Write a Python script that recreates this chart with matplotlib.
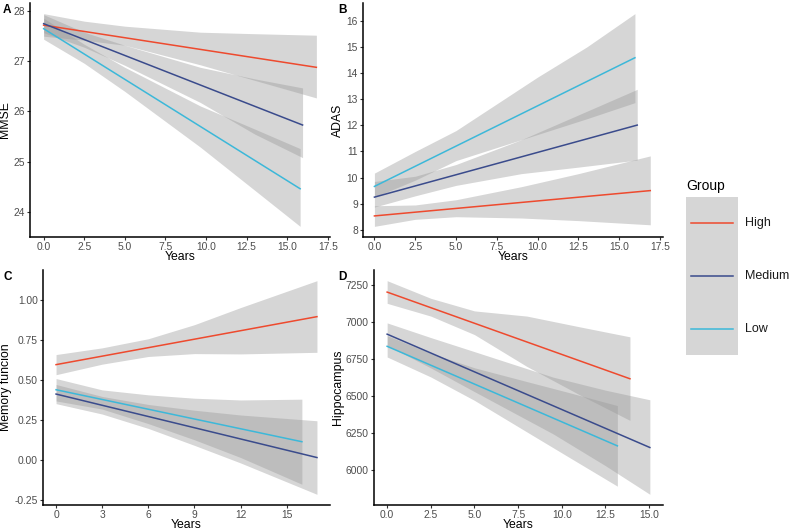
import matplotlib.pyplot as plt
from matplotlib.ticker import FixedLocator

plt.rcParams['font.family'] = ['Liberation Sans', 'DejaVu Sans']

groups = ['High', 'Medium', 'Low']
colors = {'High': '#ee4a2e', 'Medium': '#3a4b8c', 'Low': '#3cb8d9'}

# A - MMSE
mmse_x = {'High': [0, 2.5, 5, 9.65, 13, 16.8],
          'Medium': [0, 2.5, 5, 9.65, 13, 15.95],
          'Low': [0, 2.5, 5, 9.65, 13, 15.8]}
mmse_fit = {'High': [27.72, 26.88], 'Medium': [27.75, 25.73], 'Low': [27.65, 24.46]}
mmse_upper = {'High': [27.95, 27.80, 27.70, 27.58, 27.55, 27.52],
              'Medium': [27.93, 27.58, 27.32, 26.88, 26.65, 26.47],
              'Low': [27.86, 27.34, 26.88, 26.11, 25.65, 25.26]}
mmse_lower = {'High': [27.50, 27.42, 27.32, 26.93, 26.62, 26.27],
              'Medium': [27.57, 27.28, 26.92, 26.18, 25.55, 25.08],
              'Low': [27.44, 26.96, 26.40, 25.29, 24.43, 23.71]}

# B - ADAS
adas_x = {'High': [0, 2.5, 5, 9, 12.5, 16.9],
          'Medium': [0, 2.5, 5, 9, 12.5, 16.1],
          'Low': [0, 2.5, 5, 10, 13, 15.96]}
adas_fit = {'High': [8.53, 9.50], 'Medium': [9.25, 12.01], 'Low': [9.66, 14.59]}
adas_upper = {'High': [8.92, 8.95, 9.15, 9.65, 10.15, 10.83],
              'Medium': [9.85, 10.05, 10.50, 11.45, 12.40, 13.38],
              'Low': [10.17, 11.00, 11.80, 13.85, 15.00, 16.28]}
adas_lower = {'High': [8.13, 8.40, 8.50, 8.45, 8.35, 8.19],
              'Medium': [8.87, 9.30, 9.70, 10.15, 10.40, 10.67],
              'Low': [9.25, 9.90, 10.65, 11.65, 12.25, 12.87]}

# C - memory function
mem_x = {'High': [0, 3, 6, 9, 12, 16.96],
         'Medium': [0, 3, 6, 9, 12, 16.96],
         'Low': [0, 3, 6, 9, 12, 15.98]}
mem_fit = {'High': [0.595, 0.895], 'Medium': [0.411, 0.014], 'Low': [0.438, 0.113]}
mem_upper = {'High': [0.658, 0.700, 0.757, 0.845, 0.952, 1.120],
             'Medium': [0.471, 0.396, 0.346, 0.310, 0.280, 0.244],
             'Low': [0.508, 0.437, 0.406, 0.385, 0.374, 0.379]}
mem_lower = {'High': [0.532, 0.598, 0.646, 0.664, 0.662, 0.672],
             'Medium': [0.351, 0.286, 0.196, 0.090, -0.020, -0.216],
             'Low': [0.368, 0.317, 0.226, 0.125, 0.014, -0.153]}

# D - hippocampus
hip_x = {'High': [0, 2.5, 5, 8, 11, 13.9],
         'Medium': [0, 2.5, 5, 9.5, 12.5, 15.04],
         'Low': [0, 2.5, 5, 8, 10.5, 13.18]}
hip_fit = {'High': [7202, 6617], 'Medium': [6918, 6153], 'Low': [6836, 6164]}
hip_upper = {'High': [7279, 7160, 7075, 7040, 6968, 6900],
             'Medium': [6994, 6895, 6800, 6628, 6540, 6475],
             'Low': [6908, 6789, 6691, 6598, 6521, 6436]}
hip_lower = {'High': [7126, 7040, 6915, 6700, 6510, 6336],
             'Medium': [6842, 6690, 6530, 6245, 6030, 5837],
             'Low': [6764, 6629, 6471, 6258, 6081, 5892]}

W, H = 792, 530
fig = plt.figure(figsize=(W / 100, H / 100), dpi=100)


def px_axes(left, top, right, bottom):
    return fig.add_axes([left / W, 1 - bottom / H, (right - left) / W, (bottom - top) / H])


def panel(ax, bx, fit, up, lo, ylabel, xticks, xfmt, yticks, yfmt):
    for g in groups:
        ax.fill_between(bx[g], lo[g], up[g], color='#999999', alpha=0.4, lw=0, zorder=1)
    for g in groups:
        ax.plot([bx[g][0], bx[g][-1]], fit[g], color=colors[g], lw=1.1, zorder=2)
    ax.spines['top'].set_visible(False)
    ax.spines['right'].set_visible(False)
    for s in ['left', 'bottom']:
        ax.spines[s].set_linewidth(1.1)
    ax.xaxis.set_major_locator(FixedLocator(xticks))
    ax.set_xticklabels([xfmt.format(t) for t in xticks])
    ax.yaxis.set_major_locator(FixedLocator(yticks))
    ax.set_yticklabels([yfmt.format(t) for t in yticks])
    ax.tick_params(labelsize=7.4, colors='#333333', labelcolor='#4d4d4d',
                   length=2.5, width=0.8, pad=1.2)
    ax.set_xlabel('Years', fontsize=8.8, labelpad=-1)
    ax.set_ylabel(ylabel, fontsize=8.8, labelpad=1.5)


def tag(x, y, s):
    fig.text(x / W, 1 - y / H, s, fontsize=8.5, fontweight='bold', va='baseline', ha='left')


ax_a = px_axes(30, 3, 330, 237)
panel(ax_a, mmse_x, mmse_fit, mmse_upper, mmse_lower, 'MMSE',
      [0, 2.5, 5, 7.5, 10, 12.5, 15, 17.5], '{:.1f}', [24, 25, 26, 27, 28], '{:d}')
ax_a.set_xlim(-0.84, 17.64)

ax_b = px_axes(363, 3, 663, 237)
panel(ax_b, adas_x, adas_fit, adas_upper, adas_lower, 'ADAS',
      [0, 2.5, 5, 7.5, 10, 12.5, 15, 17.5], '{:.1f}', list(range(8, 17)), '{:d}')
ax_b.set_xlim(-0.70, 17.68)

ax_c = px_axes(43, 270, 330, 505)
panel(ax_c, mem_x, mem_fit, mem_upper, mem_lower, 'Memory funcion',
      [0, 3, 6, 9, 12, 15], '{:d}', [-0.25, 0, 0.25, 0.5, 0.75, 1.0], '{:.2f}')

ax_d = px_axes(374, 270, 663, 505)
panel(ax_d, hip_x, hip_fit, hip_upper, hip_lower, 'Hippocampus',
      [0, 2.5, 5, 7.5, 10, 12.5, 15], '{:.1f}', [6000, 6250, 6500, 6750, 7000, 7250], '{:d}')

tag(3, 13.3, 'A')
tag(338, 12.7, 'B')
tag(3, 280, 'C')
tag(338, 280.5, 'D')

# legend
ax_l = px_axes(686, 197, 738, 355)
ax_l.set_xlim(0, 1)
ax_l.set_ylim(0, 3)
ax_l.axis('off')
for i, g in enumerate(groups):
    y = 2.5 - i
    ax_l.fill_between([0, 1], y - 0.5, y + 0.5, color='#999999', alpha=0.4, lw=0)
    ax_l.plot([0.1, 0.9], [y, y], color=colors[g], lw=1.1)
    ax_l.text(1.14, y, g, fontsize=9, va='center', ha='left', color='#1a1a1a')
fig.text(686 / W, 1 - 186 / H, 'Group', fontsize=10, va='center', ha='left')

fig.savefig('out.png', dpi=100)
